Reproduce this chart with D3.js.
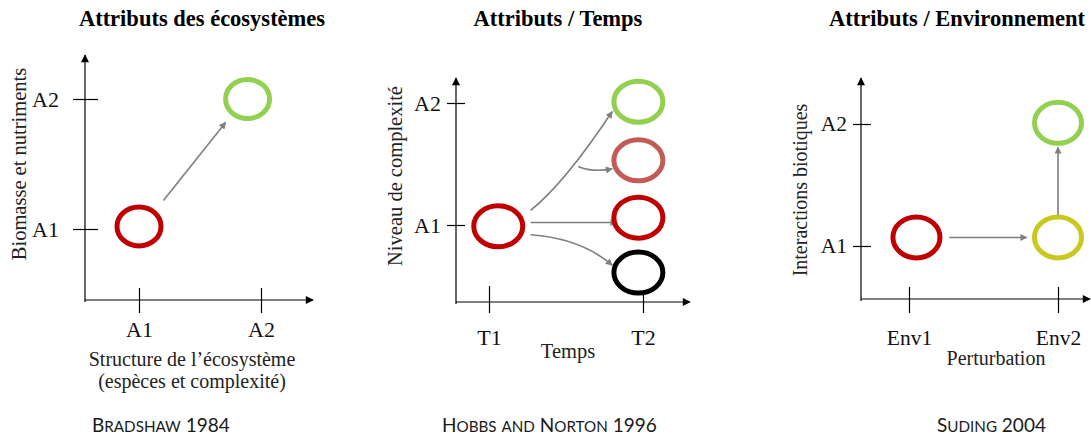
<!DOCTYPE html>
<html>
<head>
<meta charset="utf-8">
<title>Attributs des écosystèmes</title>
<script src="https://cdnjs.cloudflare.com/ajax/libs/d3/7.8.5/d3.min.js"></script>
<style>
body { margin: 0; background: #fff; }
.title { font-family: "Liberation Serif", "Times New Roman", serif; font-weight: bold; font-size: 22.5px; text-anchor: middle; fill: #000; }
.tick text { font-family: "Liberation Serif", "Times New Roman", serif; fill: #111; }
.tick line, .axis-line { stroke: #000; stroke-width: 1.2; }
.axis-title { font-family: "Liberation Serif", "Times New Roman", serif; fill: #222; text-anchor: middle; }
.source { font-family: Lato, "Open Sans", sans-serif; fill: #1a1a1a; }
.state { fill: #fff; stroke-width: 5; }
.link { fill: none; stroke: #7f7f7f; stroke-width: 1.6; }
</style>
</head>
<body>
<svg id="vis" width="1091" height="439"></svg>
<script>
// texts
var titles = ["Attributs des écosystèmes", "Attributs / Temps", "Attributs / Environnement"];
var sources = ["Bradshaw 1984", "Hobbs and Norton 1996", "Suding 2004"];
var xTicks = [["A1", "A2"], ["T1", "T2"], ["Env1", "Env2"]];
var yTicks = ["A1", "A2"];
var xTitles = [["Structure de l’écosystème", "(espèces et complexité)"], ["Temps"], ["Perturbation"]];
var yTitles = ["Biomasse et nutriments", "Niveau de complexité", "Interactions biotiques"];

// states : [x level, y level, kind]   (level 1 = A1/T1/Env1, level 2 = A2/T2/Env2)
var bradshawStates = [[1.0, 1.02, "initial"], [1.89, 2.0, "restored"]];
var hobbsStates = [[1.06, 0.99, "initial"], [1.97, 2.01, "restored"], [1.97, 1.53, "partial"],
                   [1.97, 1.06, "initial"], [1.97, 0.61, "degraded"]];
var sudingStates = [[1.05, 1.07, "initial"], [2.0, 1.07, "shifted"], [2.0, 2.01, "restored"]];

// arrows : [start, (control), end] in levels
var bradshawArrows = [[[1.20, 1.22], [1.71, 1.82]]];
var hobbsArrows = [
  [[1.27, 1.12], [1.49, 1.34], [1.80, 1.93]],
  [[1.58, 1.48], [1.67, 1.43], [1.80, 1.46]],
  [[1.27, 1.02], [1.83, 1.02]],
  [[1.27, 0.92], [1.60, 0.89], [1.80, 0.67]]
];
var sudingArrows = [[[1.27, 1.07], [1.79, 1.07]], [[2.0, 1.25], [2.0, 1.81]]];

var kinds = ["initial", "restored", "partial", "degraded", "shifted"];
var color = d3.scaleOrdinal().domain(kinds)
  .range(["#c00000", "#92d050", "#c25a55", "#000000", "#c9c820"]);

var states = [bradshawStates, hobbsStates, sudingStates];
var arrows = [bradshawArrows, hobbsArrows, sudingArrows];

// panel layout
var panels = [
  {ax: 85, ay: 300, top: 55, right: 313, xr: [139, 261], yr: [229, 99], yt: [12, 13], xt: [12, 13],
   font: 22, yLab: 59, xLab: 337, rx: 22, ry: 19.5, tx: 202, xtx: 192, xty: [366, 388], xtf: 20,
   ytx: 26, yty: 164, ytf: 20.5, sx: 92},
  {ax: 456, ay: 302, top: 78, right: 690, xr: [489, 643], yr: [225, 103], yt: [9, 9], xt: [16, 11],
   font: 22, yLab: 441, xLab: 345, rx: 24.5, ry: 20.5, tx: 558, xtx: 568, xty: [358], xtf: 20.5,
   ytx: 402, yty: 176, ytf: 20.5, sx: 442},
  {ax: 861, ay: 299, top: 78, right: 1090, xr: [909, 1058], yr: [246, 124], yt: [8, 10], xt: [12, 14],
   font: 21.5, yLab: 847, xLab: 345, rx: 23.5, ry: 20.5, tx: 957, xtx: 996, xty: [365], xtf: 20,
   ytx: 807, yty: 190, ytf: 20, sx: 937}
];

var svg = d3.select("#vis");
var defs = svg.append("defs");

defs.append("marker")
  .attr("id", "axis-head")
  .attr("markerUnits", "userSpaceOnUse")
  .attr("viewBox", "0 0 10 10")
  .attr("refX", 9).attr("refY", 5)
  .attr("markerWidth", 9).attr("markerHeight", 8)
  .attr("orient", "auto")
  .append("path").attr("d", "M0,0 L10,5 L0,10 Z").attr("fill", "#000");

defs.append("marker")
  .attr("id", "link-head")
  .attr("markerUnits", "userSpaceOnUse")
  .attr("viewBox", "0 0 10 10")
  .attr("refX", 9).attr("refY", 5)
  .attr("markerWidth", 8).attr("markerHeight", 7)
  .attr("orient", "auto")
  .append("path").attr("d", "M0,0 L10,5 L0,10 Z").attr("fill", "#7f7f7f");

// small caps by hand : lower case letters become smaller capitals
function smallCaps(sel, str, size) {
  var runs = [];
  str.split("").forEach(function(c) {
    var low = c !== c.toUpperCase();
    var last = runs[runs.length - 1];
    if (last && last.low === low) last.t += c;
    else runs.push({low: low, t: c});
  });
  runs.forEach(function(r) {
    sel.append("tspan")
      .style("font-size", (r.low ? size * 0.8 : size) + "px")
      .text(r.t.toUpperCase());
  });
}

panels.forEach(function(p, i) {
  var x = d3.scaleLinear().domain([1, 2]).range(p.xr);
  var y = d3.scaleLinear().domain([1, 2]).range(p.yr);
  var g = svg.append("g");

  g.append("text").attr("class", "title")
    .attr("x", p.tx).attr("y", 26)
    .text(titles[i]);

  // axis lines with arrow heads
  g.append("line").attr("class", "axis-line")
    .attr("x1", p.ax).attr("y1", p.ay + 2).attr("x2", p.ax).attr("y2", p.top)
    .attr("marker-end", "url(#axis-head)");
  g.append("line").attr("class", "axis-line")
    .attr("x1", p.ax).attr("y1", p.ay).attr("x2", p.right).attr("y2", p.ay)
    .attr("marker-end", "url(#axis-head)");

  // y ticks (cross the axis)
  var yAxis = g.append("g")
    .attr("transform", "translate(" + p.ax + ",0)")
    .call(d3.axisLeft(y).tickValues([1, 2])
      .tickFormat(function(d, k) { return yTicks[k]; })
      .tickSize(p.yt[0]).tickPadding(p.ax - p.yLab - p.yt[0]));
  yAxis.select(".domain").remove();
  yAxis.selectAll(".tick line").attr("x1", p.yt[1]);
  yAxis.selectAll(".tick text").style("font-size", p.font + "px");

  // x ticks
  var xAxis = g.append("g")
    .attr("transform", "translate(0," + p.ay + ")")
    .call(d3.axisBottom(x).tickValues([1, 2])
      .tickFormat(function(d, k) { return xTicks[i][k]; })
      .tickSize(p.xt[1]));
  xAxis.select(".domain").remove();
  xAxis.selectAll(".tick line").attr("y1", -p.xt[0]);
  xAxis.selectAll(".tick text")
    .style("font-size", p.font + "px")
    .attr("y", p.xLab - p.ay).attr("dy", 0);
  xAxis.attr("font-size", null).attr("font-family", null);
  yAxis.attr("font-size", null).attr("font-family", null);

  // axis titles
  g.selectAll(".x-title")
    .data(xTitles[i]).enter()
    .append("text").attr("class", "axis-title x-title")
    .attr("x", p.xtx).attr("y", function(d, k) { return p.xty[k]; })
    .style("font-size", p.xtf + "px")
    .text(function(d) { return d; });

  g.append("text").attr("class", "axis-title")
    .attr("transform", "translate(" + p.ytx + "," + p.yty + ") rotate(-90)")
    .style("font-size", p.ytf + "px")
    .text(yTitles[i]);

  // transitions
  g.selectAll(".link")
    .data(arrows[i]).enter()
    .append("path").attr("class", "link")
    .attr("d", function(a) {
      var pts = a.map(function(q) { return [x(q[0]), y(q[1])]; });
      if (pts.length === 2) return "M" + pts[0] + "L" + pts[1];
      return "M" + pts[0] + "Q" + pts[1] + " " + pts[2];
    })
    .attr("marker-end", "url(#link-head)");

  // ecosystem states
  g.selectAll(".state")
    .data(states[i]).enter()
    .append("ellipse").attr("class", "state")
    .attr("cx", function(d) { return x(d[0]); })
    .attr("cy", function(d) { return y(d[1]); })
    .attr("rx", p.rx).attr("ry", p.ry)
    .style("stroke", function(d) { return color(d[2]); });

  var src = g.append("text").attr("class", "source")
    .attr("x", p.sx).attr("y", 432);
  smallCaps(src, sources[i], 19);
});
</script>
</body>
</html>
